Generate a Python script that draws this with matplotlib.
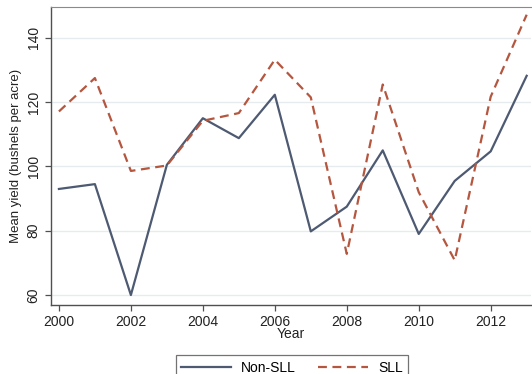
import matplotlib
matplotlib.use("Agg")
import matplotlib.pyplot as plt

years = [2000, 2001, 2002, 2003, 2004, 2005, 2006, 2007, 2008, 2009, 2010, 2011, 2012, 2013]
non_sll = [93.0, 94.5, 60.0, 100.5, 115.0, 108.8, 122.3, 79.8, 87.5, 105.0, 79.0, 95.5, 104.7, 128.2]
sll = [117.1, 127.5, 98.6, 100.3, 114.2, 116.6, 133.2, 121.5, 72.8, 125.5, 92.0, 70.8, 121.7, 147.2]
yticks = [60, 80, 100, 120, 140]
xticks = [2000, 2002, 2004, 2006, 2008, 2010, 2012]

plt.rcParams['font.family'] = ['Liberation Sans', 'DejaVu Sans']

fig = plt.figure(figsize=(5.32, 3.74), dpi=100)
ax = fig.add_axes([51/532, 1-305/374, 480/532, 298/374])

ax.plot(years, non_sll, color='#4d5a72', lw=1.6, label='Non-SLL')
ax.plot(years, sll, color='#b5563f', lw=1.6, ls=(0, (4, 2.5)), label='SLL')

ax.set_xlim(1999.78, 2013.12)
ax.set_ylim(56.9, 149.6)
ax.set_yticks(yticks)
ax.set_xticks(xticks)
ax.grid(axis='y', color='#e6ecee', lw=1.0)
ax.set_axisbelow(True)

for s in ['left', 'bottom']:
    ax.spines[s].set_color('#505050')
    ax.spines[s].set_linewidth(1.0)
ax.spines['top'].set_color('#8a8a8a')
ax.spines['right'].set_visible(False)

ax.tick_params(axis='both', direction='out', length=4, width=0.9, color='#505050',
               labelsize=10, labelcolor='#222222')
for lab in ax.get_yticklabels():
    lab.set_rotation(90)
    lab.set_va('center')

ax.set_xlabel('Year', fontsize=10, color='#222222', labelpad=-2)
ax.set_ylabel('Mean yield (bushels per acre)', fontsize=9.5, color='#222222', labelpad=3)

leg = fig.legend(loc='upper center', bbox_to_anchor=(292/532, 1-348/374), ncol=2,
                 frameon=True, fancybox=False, edgecolor='#505050', fontsize=10,
                 handlelength=3.6, handletextpad=0.7, columnspacing=1.6, borderpad=0.4)
leg.get_frame().set_linewidth(0.9)

fig.savefig('out.png', dpi=100, facecolor='white')
